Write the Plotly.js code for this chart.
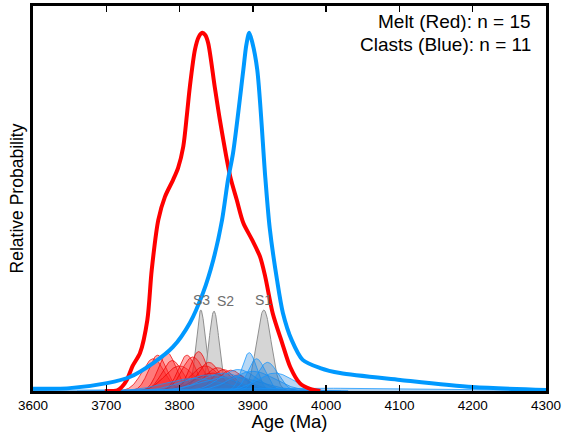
<!DOCTYPE html>
<html><head><meta charset="utf-8">
<script src="https://cdn.plot.ly/plotly-3.0.1.min.js"></script>
<style>html,body{margin:0;padding:0;background:#fff}#chart{width:563px;height:432px}</style>
</head><body><div id="chart"></div>
<script>
// Summed probability curves
const meltAge  = [3698,3715,3721,3728,3736,3746,3756,3762,3771,3780,3791,3798,3805,3810,3814,3821,3826,3831,3835,3839,3848,3855,3869,3878,3887,3899,3910,3917,3927,3940,3951,3964,3978,3992];
const meltProb = [0,0.002,0.011,0.031,0.07,0.106,0.198,0.338,0.478,0.542,0.589,0.623,0.682,0.771,0.849,0.953,0.988,1.0,0.994,0.972,0.849,0.757,0.6,0.534,0.469,0.422,0.374,0.318,0.218,0.134,0.067,0.022,0.006,0];
const clastAge  = [3600,3650,3701,3732,3764,3791,3814,3832,3846,3858,3866,3873,3887,3891,3895,3899,3906,3917,3923,3933,3941,3953,3968,3992,4019,4101,4200,4300];
const clastProb = [0.006,0.008,0.022,0.039,0.078,0.123,0.19,0.274,0.366,0.478,0.589,0.665,0.897,0.965,1.0,0.975,0.897,0.595,0.455,0.31,0.218,0.142,0.087,0.064,0.05,0.031,0.011,0.003];

// Individual sample distributions: age, 1-sigma, peak height
const meltSampleAge    = [3764,3770,3783,3790,3800,3810,3818,3826,3835,3840,3845,3852,3860,3870,3880];
const meltSampleSigma  = [15,12,12,14,20,12,15,12,20,15,25,18,15,18,15];
const meltSampleHeight = [0.09,0.10,0.107,0.085,0.07,0.10,0.095,0.11,0.07,0.08,0.05,0.065,0.06,0.058,0.045];
const clastSampleAge    = [3820,3840,3860,3870,3880,3895,3900,3905,3920,3930,3950];
const clastSampleSigma  = [40,35,30,40,25,10,30,12,14,25,200];
const clastSampleHeight = [0.035,0.045,0.05,0.04,0.06,0.107,0.055,0.09,0.08,0.05,0.008];

// Reference peaks
const sLabels = ['S3','S2','S1'];
const sAge    = [3829,3847,3915];
const sSigma  = [6.5,7,10];
const sHeight = [0.226,0.223,0.226];

const tickVals = [3600,3700,3800,3900,4000,4100,4200,4300];
const noteLines = ['Melt (Red): n = 15','Clasts (Blue): n = 11'];

function gaussCurve(mu, sd, h){
  const xs=[], ys=[];
  const lo=Math.max(3600,mu-4*sd), hi=Math.min(4300,mu+4*sd);
  const step=Math.max(0.5,sd/20);
  for(let x=lo;x<=hi+1e-9;x+=step){xs.push(x);ys.push(h*Math.exp(-0.5*((x-mu)/sd)**2));}
  return {x:xs,y:ys};
}

const traces=[];
sAge.forEach((m,i)=>{const g=gaussCurve(m,sSigma[i],sHeight[i]);
  traces.push({x:g.x,y:g.y,type:'scatter',mode:'lines',fill:'tozeroy',fillcolor:'rgba(208,208,208,0.9)',line:{color:'#8f8f8f',width:1},hoverinfo:'skip'});});
meltSampleAge.forEach((m,i)=>{const g=gaussCurve(m,meltSampleSigma[i],meltSampleHeight[i]);
  traces.push({x:g.x,y:g.y,type:'scatter',mode:'lines',fill:'tozeroy',fillcolor:'rgba(255,30,30,0.36)',line:{color:'rgba(235,0,0,0.9)',width:0.8},hoverinfo:'skip'});});
clastSampleAge.forEach((m,i)=>{const g=gaussCurve(m,clastSampleSigma[i],clastSampleHeight[i]);
  traces.push({x:g.x,y:g.y,type:'scatter',mode:'lines',fill:'tozeroy',fillcolor:'rgba(30,130,220,0.32)',line:{color:'rgba(20,150,255,0.95)',width:0.8},hoverinfo:'skip'});});
traces.push({x:meltAge,y:meltProb,type:'scatter',mode:'lines',line:{color:'#ff0000',width:4,shape:'spline',smoothing:0.8},hoverinfo:'skip'});
traces.push({x:clastAge,y:clastProb,type:'scatter',mode:'lines',line:{color:'#0099ff',width:4,shape:'spline',smoothing:0.8},hoverinfo:'skip'});

const font='"Liberation Sans", Arial, Helvetica, sans-serif';
const sShift=[1,11,0];
const annotations=sLabels.map((s,i)=>({x:sAge[i],y:sHeight[i],xref:'x',yref:'y',text:s,showarrow:false,yanchor:'bottom',yshift:0,xshift:sShift[i],font:{family:font,size:14,color:'#6e6e6e'}}));
annotations.push({x:0.975,y:0.961,xref:'paper',yref:'paper',xanchor:'right',yanchor:'middle',text:noteLines[0],showarrow:false,font:{family:font,size:19,color:'#000'}});
annotations.push({x:0.975,y:0.901,xref:'paper',yref:'paper',xanchor:'right',yanchor:'middle',text:noteLines[1],showarrow:false,font:{family:font,size:19,color:'#000'}});

const layout={
  width:563,height:432,
  margin:{l:33,r:17,t:6,b:41},
  paper_bgcolor:'#fff',plot_bgcolor:'#fff',
  showlegend:false,hovermode:false,
  font:{family:font,color:'#000'},
  xaxis:{range:[3600,4300],tickvals:tickVals,ticktext:tickVals.map(String),ticks:'inside',ticklen:6,tickwidth:1.5,tickcolor:'#000',
    showline:true,linewidth:3,linecolor:'#000',mirror:'ticks',showgrid:false,zeroline:false,
    tickfont:{family:font,size:13.5,color:'#000'},
    title:{text:'Age (Ma)',font:{family:font,size:18.5,color:'#000'},standoff:6}},
  yaxis:{range:[0,1.075],showticklabels:false,ticks:'',showline:true,linewidth:3,linecolor:'#000',mirror:true,showgrid:false,zeroline:false,
    title:{text:'Relative Probability',font:{family:font,size:17.5,color:'#000'},standoff:2}},
  annotations:annotations
};
Plotly.newPlot('chart',traces,layout,{staticPlot:true,displayModeBar:false});
</script></body></html>
